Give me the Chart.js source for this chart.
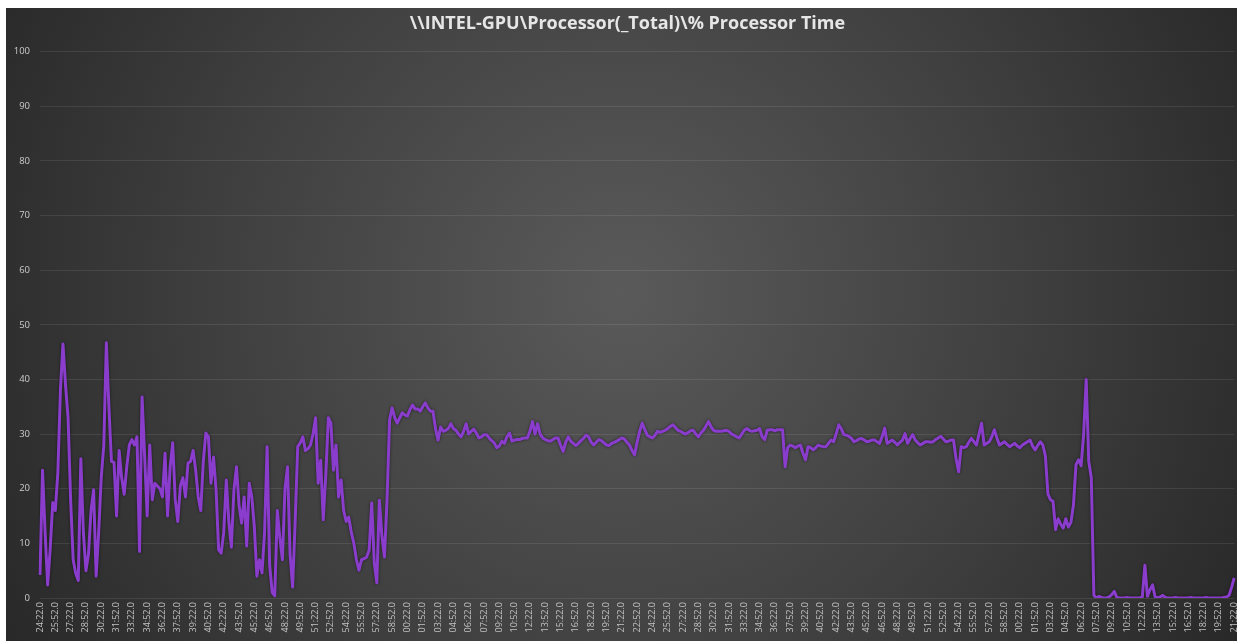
<!DOCTYPE html>
<html>
<head>
<meta charset="utf-8">
<script src="https://cdn.jsdelivr.net/npm/chart.js@4"></script>
<style>
  html, body { margin: 0; padding: 0; background: #ffffff; overflow: hidden; }
  #box { position: absolute; left: 6px; top: 8px; width: 1243px; height: 633px; }
</style>
</head>
<body>
<div id="box"><canvas id="cpuChart"></canvas></div>
<script>
const chartTitle = '\\\\INTEL-GPU\\Processor(_Total)\\% Processor Time';

// every 6th sample gets a label (samples are 15 s apart)
const tickLabels = [
    "24:22.0", "25:52.0", "27:22.0", "28:52.0", "30:22.0", "31:52.0", "33:22.0", "34:52.0",
    "36:22.0", "37:52.0", "39:22.0", "40:52.0", "42:22.0", "43:52.0", "45:22.0", "46:52.0",
    "48:22.0", "49:52.0", "51:22.0", "52:52.0", "54:22.0", "55:52.0", "57:22.0", "58:52.0",
    "00:22.0", "01:52.0", "03:22.0", "04:52.0", "06:22.0", "07:52.0", "09:22.0", "10:52.0",
    "12:22.0", "13:52.0", "15:22.0", "16:52.0", "18:22.0", "19:52.0", "21:22.0", "22:52.0",
    "24:22.0", "25:52.0", "27:22.0", "28:52.0", "30:22.0", "31:52.0", "33:22.0", "34:52.0",
    "36:22.0", "37:52.0", "39:22.0", "40:52.0", "42:22.0", "43:52.0", "45:22.0", "46:52.0",
    "48:22.0", "49:52.0", "51:22.0", "52:52.0", "54:22.0", "55:52.0", "57:22.0", "58:52.0",
    "00:22.0", "01:52.0", "03:22.0", "04:52.0", "06:22.0", "07:52.0", "09:22.0", "10:52.0",
    "12:22.0", "13:52.0", "15:22.0", "16:52.0", "18:22.0", "19:52.0", "21:22.0"
];
const samplesPerTick = 6;

const processorTime = [
    4.2, 23.4, 12, 2.4, 9, 17.5, 16, 23, 38, 46.5,
    39, 33, 18, 7, 4.5, 3.2, 25.5, 12, 5, 8,
    16, 19.8, 4, 12, 22, 28, 46.7, 35, 25, 24.8,
    15, 27, 22, 19, 24, 28, 29, 28, 29.5, 8.5,
    36.8, 26, 15, 28, 18, 21, 20.5, 20, 18.5, 26.5,
    15, 24, 28.4, 18, 14, 20.5, 22, 18.5, 24.7, 25,
    27, 23.4, 18.5, 16, 25, 30.2, 29.5, 21, 25.8, 19.8,
    8.8, 8.2, 12, 21.6, 14, 9.3, 19.8, 24, 17, 13.7,
    18.5, 9.5, 21, 18.5, 13, 4, 7, 4.6, 12, 27.7,
    6, 1, 0.4, 16, 11, 7, 20, 24, 8, 2,
    14, 27.7, 28.4, 29.5, 27, 27.3, 28, 30, 33, 21,
    25.2, 14.3, 22.5, 33, 32, 23.4, 28, 18.5, 21.6, 16,
    14, 14.8, 12, 10, 7, 5.1, 7, 7.2, 7.5, 8.8,
    17.4, 6.4, 2.8, 17.9, 11.3, 7.5, 18, 32.6, 34.8, 33,
    32, 33, 33.9, 33.5, 33.3, 34.5, 35.3, 34.6, 34.6, 34.2,
    35, 35.7, 34.8, 34.2, 34.2, 31, 28.9, 31.3, 30.5, 30.7,
    31, 31.9, 31, 30.7, 30, 29.5, 30.5, 31.9, 30, 30.5,
    30.9, 30.2, 29.3, 29.5, 29.9, 29.9, 29.3, 28.8, 28.4, 27.5,
    27.8, 28.7, 28.3, 29.5, 30.2, 28.7, 28.9, 29, 29, 29.2,
    29.3, 29.3, 30.5, 32.3, 30, 31.9, 30, 29.3, 29, 28.8,
    28.7, 29, 29.3, 29.3, 28, 26.8, 28.5, 29.5, 28.7, 28.3,
    27.9, 28.3, 28.8, 29.2, 29.8, 29.5, 28.5, 28, 28.5, 29,
    28.8, 28.4, 28, 27.9, 28.3, 28.5, 28.7, 29, 29.3, 29.1,
    28.5, 28, 27, 26.2, 28.5, 30.5, 32, 30.8, 29.8, 29.5,
    29.3, 29.8, 30.5, 30.3, 30.5, 30.7, 31, 31.4, 31.7, 31.2,
    30.7, 30.5, 30.2, 30, 30.3, 30.6, 30.7, 30, 29.5, 30.2,
    30.7, 31.5, 32.3, 31.3, 30.7, 30.5, 30.5, 30.5, 30.6, 30.7,
    30.5, 30, 29.8, 29.5, 29.3, 30, 30.7, 31, 30.7, 30.5,
    30.6, 30.7, 31, 29.5, 29, 30.7, 30.8, 30.8, 30.6, 30.8,
    30.8, 30.8, 24, 27.5, 28, 27.8, 27.5, 27.8, 28, 26.5,
    25.3, 27.7, 27.5, 27.1, 27.5, 28, 27.8, 27.7, 27.7, 28.3,
    28.9, 28.6, 30, 31.7, 31, 29.9, 29.8, 29.6, 29.2, 28.6,
    28.8, 29.1, 29.2, 28.9, 28.6, 28.7, 28.9, 28.9, 28.6, 28.3,
    29.5, 31.1, 28.3, 28.6, 28.9, 28.5, 28, 28.5, 28.9, 30.1,
    28.3, 29.2, 29.9, 28.9, 28.4, 28, 28.3, 28.6, 28.6, 28.5,
    28.6, 29, 29.3, 29.6, 29.1, 28.6, 28.7, 28.9, 28.9, 25.5,
    23.1, 27.7, 27.5, 27.7, 28.5, 29.2, 28.6, 28, 30, 32,
    28, 28.3, 28.6, 29.5, 30.8, 29.3, 28, 28.3, 28.6, 28.1,
    27.7, 28, 28.3, 27.8, 27.5, 28, 28.3, 28.6, 28.9, 27.8,
    27.1, 27.9, 28.6, 28, 26, 19, 18, 17.7, 12.5, 14.5,
    13.5, 12.8, 14.5, 13, 13.8, 17, 24.4, 25.3, 24.2, 30,
    40, 25, 22, 0.5, 0, 0.3, 0.1, 0, 0, 0.2,
    0.6, 1.2, 0.1, 0, 0, 0, 0.1, 0, 0, 0,
    0, 0, 0.2, 6, 0.3, 1.5, 2.4, 0.2, 0, 0.2,
    0.5, 0.1, 0, 0, 0, 0.1, 0, 0, 0, 0,
    0, 0.1, 0, 0, 0, 0, 0, 0.1, 0, 0,
    0, 0, 0, 0, 0.1, 0.2, 0.5, 2, 3.7
];

// category labels, one per sample, only every 6th one shown
const sampleLabels = processorTime.map((v, i) =>
    i % samplesPerTick === 0 ? tickLabels[i / samplesPerTick] : '');

const bgPlugin = {
    id: 'bgGradient',
    beforeDraw(chart) {
        const ctx = chart.ctx;
        const w = 1231, h = chart.height;
        ctx.save();
        const g = ctx.createRadialGradient(w * 0.5, h * 0.45, 0, w * 0.5, h * 0.45, w * 0.6);
        g.addColorStop(0, '#5a5a5a');
        g.addColorStop(0.55, '#3f3f3f');
        g.addColorStop(1, '#262626');
        ctx.fillStyle = g;
        ctx.fillRect(0, 0, chart.width, h);
        ctx.restore();
    },
    beforeDatasetsDraw(chart) {
        const ctx = chart.ctx;
        ctx.save();
        ctx.shadowColor = 'rgba(0,0,0,0.55)';
        ctx.shadowBlur = 3;
    },
    afterDatasetsDraw(chart) {
        chart.ctx.restore();
    }
};

new Chart(document.getElementById('cpuChart'), {
    type: 'line',
    data: {
        labels: sampleLabels,
        datasets: [{
            data: processorTime,
            borderColor: '#8a3dcc',
            borderWidth: 3,
            pointRadius: 0,
            tension: 0,
            borderJoinStyle: 'round',
            fill: false
        }]
    },
    options: {
        responsive: true,
        maintainAspectRatio: false,
        animation: false,
        layout: { padding: { left: 0, right: 0, top: 0, bottom: 0 } },
        scales: {
            x: {
                offset: false,
                grid: { display: false, drawTicks: false },
                border: { display: false },
                afterFit(scale) { scale.height = 43; },
                ticks: {
                    autoSkip: false,
                    minRotation: 90,
                    maxRotation: 90,
                    padding: 4,
                    color: '#c4c4c4',
                    font: { family: 'Open Sans', size: 9 },
                    callback: function (value, index) { return sampleLabels[index]; }
                }
            },
            y: {
                min: 0,
                max: 100,
                grid: { color: 'rgba(255,255,255,0.09)', drawTicks: false, lineWidth: 1 },
                border: { display: false },
                afterFit(scale) { scale.width = 34; },
                ticks: {
                    stepSize: 10,
                    padding: 10,
                    color: '#cccccc',
                    font: { family: 'Open Sans', size: 9.5 }
                }
            }
        },
        plugins: {
            legend: { display: false },
            tooltip: { enabled: false },
            title: {
                display: true,
                text: chartTitle,
                color: '#e6e6e6',
                font: { family: 'Open Sans', size: 18, weight: 'bold' },
                padding: { top: 5, bottom: 17 }
            }
        }
    },
    plugins: [bgPlugin]
});
</script>
</body>
</html>
